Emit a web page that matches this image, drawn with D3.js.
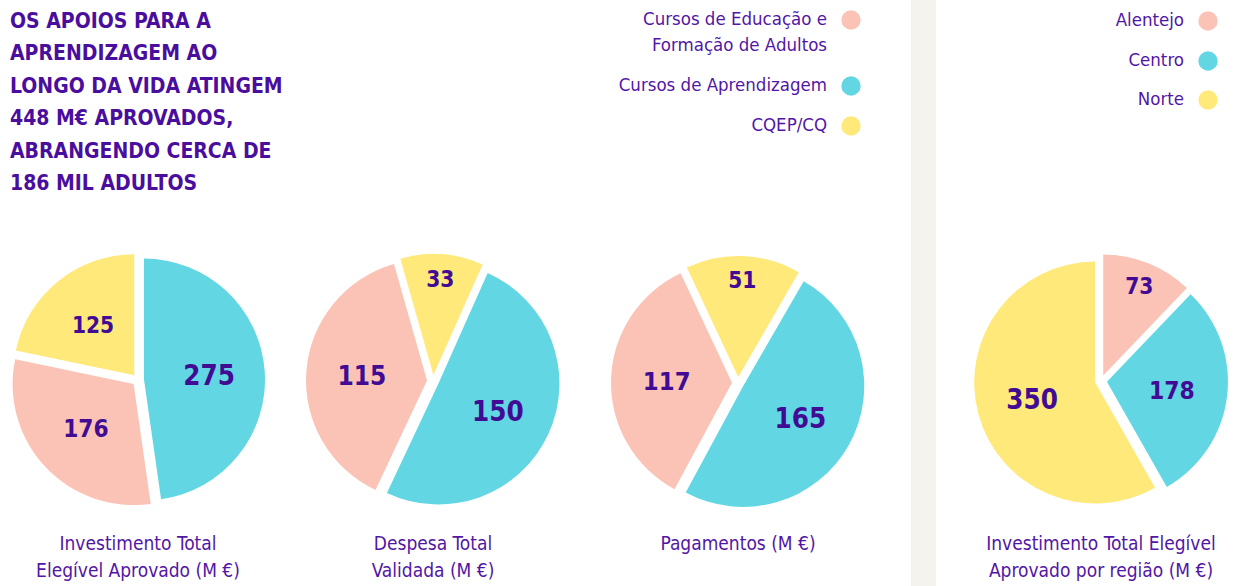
<!DOCTYPE html>
<html>
<head>
<meta charset="utf-8">
<script src="https://cdn.jsdelivr.net/npm/d3@7"></script>
<style>
  html, body { margin: 0; padding: 0; background: #fff; }
  svg { display: block; }
  .title { font-family: "DejaVu Sans"; font-stretch: condensed; font-weight: bold; fill: #4a0e9e; }
  .legend, .caption { font-family: "DejaVu Sans"; font-stretch: condensed; fill: #5216a6; }
  .value { font-family: "DejaVu Sans"; font-stretch: condensed; font-weight: bold; fill: #410c93; }
</style>
</head>
<body>
<svg width="1240" height="586"></svg>
<script>
const width = 1240;
const height = 586;

// data
const titleLines = [
  "OS APOIOS PARA A",
  "APRENDIZAGEM AO",
  "LONGO DA VIDA ATINGEM",
  "448 M€ APROVADOS,",
  "ABRANGENDO CERCA DE",
  "186 MIL ADULTOS"
];
const courseTypes = ["Cursos de Educação e Formação de Adultos", "Cursos de Aprendizagem", "CQEP/CQ"];
const courseLegendLines = [["Cursos de Educação e", "Formação de Adultos"], ["Cursos de Aprendizagem"], ["CQEP/CQ"]];
const regions = ["Alentejo", "Centro", "Norte"];

const investimentoAprovado = [176, 275, 125];
const despesaValidada = [115, 150, 33];
const pagamentos = [117, 165, 51];
const investimentoRegiao = [73, 178, 350];

const captionInvestimento = ["Investimento Total", "Elegível Aprovado (M €)"];
const captionDespesa = ["Despesa Total", "Validada (M €)"];
const captionPagamentos = ["Pagamentos (M €)"];
const captionRegiao = ["Investimento Total Elegível", "Aprovado por região (M €)"];

const colors = ["#fac3b6", "#62d6e3", "#ffe97a"];

const svg = d3.select("svg");

svg.append("rect")
  .attr("x", 911).attr("y", 0)
  .attr("width", 25).attr("height", height)
  .attr("fill", "#f4f3ee");

// title
svg.append("text")
  .attr("class", "title")
  .attr("font-size", 21)
  .selectAll("tspan")
  .data(titleLines)
  .join("tspan")
    .attr("x", 10)
    .attr("y", (d, i) => 28 + i * 32.4)
    .text(d => d);

// legends
function legend(x, labelsLines, rowYs) {
  const g = svg.append("g").attr("class", "legend");
  labelsLines.forEach((lines, i) => {
    g.append("circle")
      .attr("cx", x + 24).attr("cy", rowYs[i])
      .attr("r", 9.7)
      .attr("fill", colors[i]);
    g.append("text")
      .attr("font-size", 18.5)
      .attr("text-anchor", "end")
      .selectAll("tspan")
      .data(lines)
      .join("tspan")
        .attr("x", x)
        .attr("y", (d, j) => rowYs[i] + 5 + j * 26)
        .text(d => d);
  });
}
legend(827, courseLegendLines, [20, 86, 126]);
legend(1184, regions.map(d => [d]), [21, 61, 100]);

// pies
const R = 121;
const explode = 6;
const arc = d3.arc().innerRadius(0).outerRadius(R);

function pieChart(cx, cy, values, order, start, caption) {
  const items = order.map(i => ({ value: values[i], color: colors[i] }));
  const pie = d3.pie().sort(null).value(d => d.value)
    .startAngle(start * Math.PI / 180)
    .endAngle((start + 360) * Math.PI / 180);
  const arcs = pie(items);
  const fontSize = d3.scaleLinear(d3.extent(values), [22.5, 27.5]);
  const g = svg.append("g").attr("transform", `translate(${cx},${cy})`);

  const slice = g.selectAll("g.slice")
    .data(arcs)
    .join("g")
      .attr("class", "slice")
      .attr("transform", d => {
        const a = (d.startAngle + d.endAngle) / 2;
        return `translate(${Math.sin(a) * explode},${-Math.cos(a) * explode})`;
      });

  slice.append("path")
    .attr("d", arc)
    .attr("fill", d => d.data.color);

  slice.append("text")
    .attr("class", "value")
    .attr("text-anchor", "middle")
    .attr("dy", "0.36em")
    .attr("font-size", d => fontSize(d.data.value))
    .attr("transform", d => {
      const span = d.endAngle - d.startAngle;
      const r = span < 1.2 ? 0.8 * R : 0.54 * R;
      const a = (d.startAngle + d.endAngle) / 2;
      return `translate(${Math.sin(a) * r},${-Math.cos(a) * r})`;
    })
    .text(d => d.data.value);

  svg.append("text")
    .attr("class", "caption")
    .attr("font-size", 19)
    .attr("text-anchor", "middle")
    .selectAll("tspan")
    .data(caption)
    .join("tspan")
      .attr("x", cx)
      .attr("y", (d, i) => 550 + i * 27)
      .text(d => d);
}

pieChart(138, 380, investimentoAprovado, [1, 0, 2], 0, captionInvestimento);
pieChart(433, 381, despesaValidada, [1, 0, 2], 24, captionDespesa);
pieChart(738, 383, pagamentos, [1, 0, 2], 30, captionPagamentos);
pieChart(1101, 381, investimentoRegiao, [0, 1, 2], 0, captionRegiao);
</script>
</body>
</html>
